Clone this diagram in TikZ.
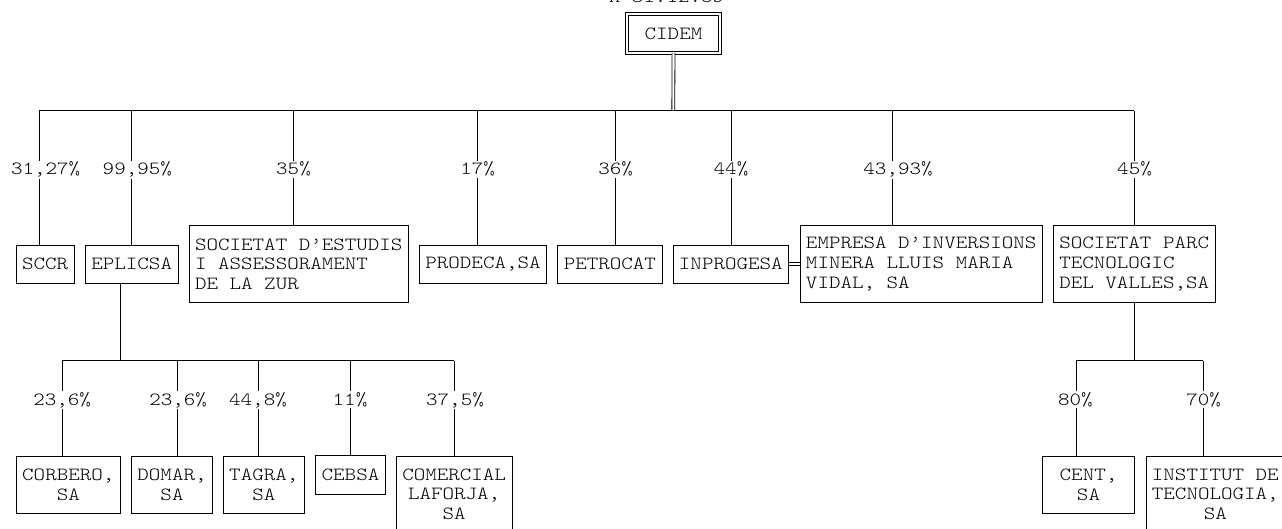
\documentclass[tikz,border=0pt]{standalone}
\usepackage{fontspec}
\newfontfamily\orgfont{Latin Modern Mono Light}[FakeStretch=1.18]
\pgfdeclarelayer{bg}
\pgfsetlayers{bg,main}
\tikzset{
  every node/.style={font=\orgfont\fontsize{18.6}{19.6}\selectfont},
  firm/.style={draw, line width=0.8pt, inner xsep=6pt, inner ysep=0pt, align=left},
  firmc/.style={firm, align=center},
  one/.style={minimum height=38.3pt},
  two/.style={minimum height=57.5pt},
  three/.style={minimum height=76.6pt},
  pct/.style={fill=white, inner sep=1.5pt, anchor=base},
  conn/.style={line width=0.8pt},
  dbl/.style={draw, double, double distance=2.1pt, line width=0.8pt},
}
\begin{document}
\begin{tikzpicture}[x=1pt, y=-1pt]
\useasboundingbox (0,0) rectangle (1282,529);

% title (cropped at top)
\node[anchor=base, inner sep=0pt] (date) at (666.5,3) {A 31.12.89};

% root
\node[dbl, minimum width=92.6pt, minimum height=38.8pt, inner sep=0pt] (cidem) at (673.5,33.6) {CIDEM};

% level 1
\node[firm, one, minimum width=57.7pt]  (sccr)     at (45.2,264.2) {SCCR};
\node[firm, one, minimum width=92pt]    (eplicsa)  at (131.7,264.2) {EPLICSA};
\node[firm, three, minimum width=219pt] (soc)      at (298.8,264) {SOCIETAT D’ESTUDIS\\I ASSESSORAMENT\\DE LA ZUR};
\node[firm, one, minimum width=127.4pt] (prodeca)  at (483,264.2) {PRODECA,SA};
\node[firm, one, minimum width=104.3pt] (petrocat) at (609.9,264.2) {PETROCAT};
\node[firm, one, minimum width=115pt]   (inprogesa) at (730.8,264.2) {INPROGESA};
\node[firm, three, minimum width=242.3pt] (empresa) at (921.2,264) {EMPRESA D’INVERSIONS\\MINERA LLUIS MARIA\\VIDAL, SA};
\node[firm, three, minimum width=161.7pt] (parc)   at (1134.2,264) {SOCIETAT PARC\\TECNOLOGIC\\DEL VALLES,SA};

% level 2
\node[firmc, two, minimum width=103.3pt] (corbero)   at (68.3,484.7) {CORBERO,\\SA};
\node[firmc, two, minimum width=80.6pt]  (domar)     at (172,484.7) {DOMAR,\\SA};
\node[firmc, two, minimum width=81pt]    (tagra)     at (263.8,484.7) {TAGRA,\\SA};
\node[firmc, one, minimum width=70.4pt]  (cebsa)     at (350.5,475) {CEBSA};
\node[firmc, three, minimum width=114.8pt] (comercial) at (454.1,494.3) {COMERCIAL\\LAFORJA,\\SA};
\node[firmc, two, minimum width=91.6pt]  (cent)      at (1088.5,484.7) {CENT,\\SA};
\node[firmc, three, minimum width=138.7pt] (institut) at (1215.3,494.3) {INSTITUT DE\\TECNOLOGIA,\\SA};

% bus coordinates
\coordinate (t1) at (39.3,110.7);
\coordinate (t2) at (131.7,110.7);
\coordinate (t3) at (293,110.7);
\coordinate (t4) at (477.7,110.7);
\coordinate (t5) at (615.7,110.7);
\coordinate (t6) at (731,110.7);
\coordinate (t7) at (892,110.7);
\coordinate (t8) at (1134.3,110.7);
\coordinate (es) at (120,360.7);
\coordinate (e1) at (62.3,360.7);
\coordinate (e2) at (177.3,360.7);
\coordinate (e3) at (258.3,360.7);
\coordinate (e4) at (350.3,360.7);
\coordinate (e5) at (454.3,360.7);
\coordinate (ps) at (1134.3,360.7);
\coordinate (p1) at (1076,360.7);
\coordinate (p2) at (1203.3,360.7);

\begin{pgfonlayer}{bg}
  \draw[conn] (t1) -- (t8);
  \draw[conn] (t1) -- (t1 |- sccr.north);
  \draw[conn] (t2) -- (t2 |- eplicsa.north);
  \draw[conn] (t3) -- (t3 |- soc.north);
  \draw[conn] (t4) -- (t4 |- prodeca.north);
  \draw[conn] (t5) -- (t5 |- petrocat.north);
  \draw[conn] (t6) -- (t6 |- inprogesa.north);
  \draw[conn] (t7) -- (t7 |- empresa.north);
  \draw[conn] (t8) -- (t8 |- parc.north);
  % EPLICSA subtree
  \draw[conn] (es |- eplicsa.south) -- (es);
  \draw[conn] (e1) -- (e5);
  \draw[conn] (e1) -- (e1 |- corbero.north);
  \draw[conn] (e2) -- (e2 |- domar.north);
  \draw[conn] (e3) -- (e3 |- tagra.north);
  \draw[conn] (e4) -- (e4 |- cebsa.north);
  \draw[conn] (e5) -- (e5 |- comercial.north);
  % PARC subtree
  \draw[conn] (ps |- parc.south) -- (ps);
  \draw[conn] (p1) -- (p2);
  \draw[conn] (p1) -- (p1 |- cent.north);
  \draw[conn] (p2) -- (p2 |- institut.north);
\end{pgfonlayer}

% double connectors
\coordinate (cbot) at (673.3,110.3);
\draw[dbl] (cidem.south) -- (cbot);
\draw[dbl] (inprogesa.east) -- (inprogesa.east -| empresa.west);

% percentage labels
\node[pct] (l1) at (45.7,175) {31,27\%};
\node[pct] (l2) at (137.3,175) {99,95\%};
\node[pct] (l3) at (293.5,175) {35\%};
\node[pct] (l4) at (477.7,175) {17\%};
\node[pct] (l5) at (615.7,175) {36\%};
\node[pct] (l6) at (731,175) {44\%};
\node[pct] (l7) at (898,175) {43,93\%};
\node[pct] (l8) at (1134.5,175) {45\%};
\node[pct] (m1) at (62.2,405) {23,6\%};
\node[pct] (m2) at (178.2,405) {23,6\%};
\node[pct] (m3) at (258,405) {44,8\%};
\node[pct] (m4) at (350,405) {11\%};
\node[pct] (m5) at (455,405) {37,5\%};
\node[pct] (n1) at (1075.3,405) {80\%};
\node[pct] (n2) at (1203.7,405) {70\%};
\end{tikzpicture}
\end{document}
